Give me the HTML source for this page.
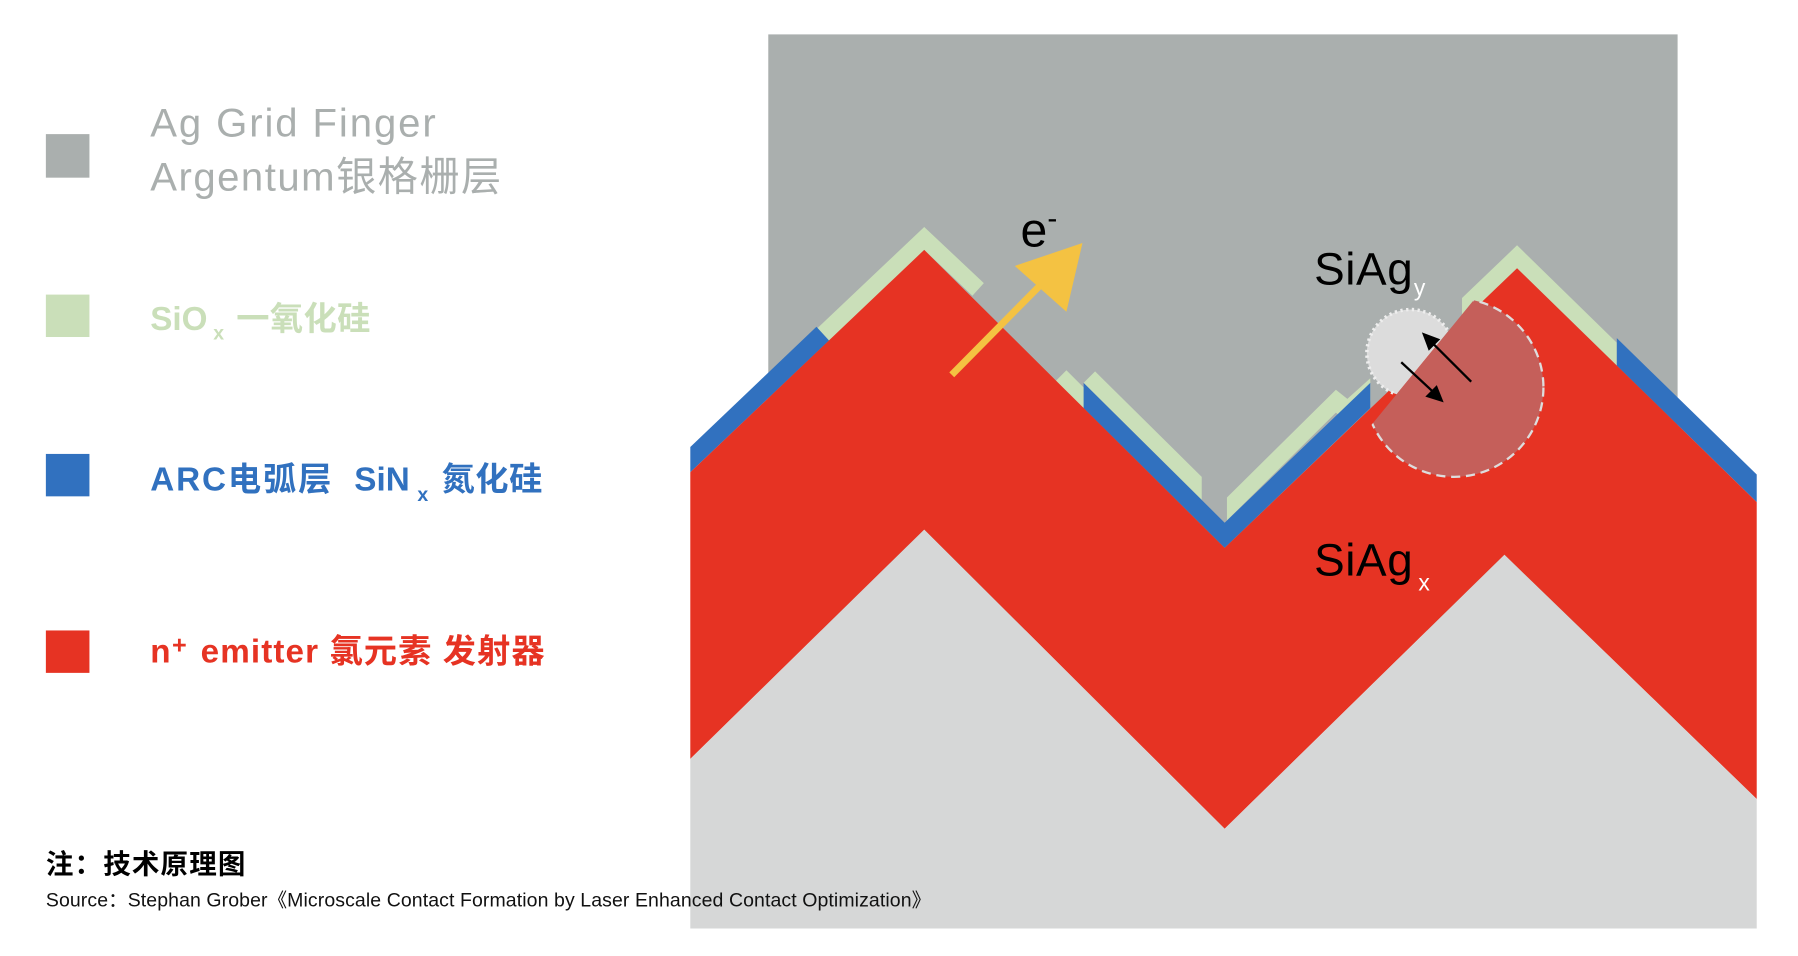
<!DOCTYPE html>
<html><head><meta charset="utf-8"><style>
html,body{margin:0;padding:0;background:#fff;}
svg{display:block;}
text{font-family:"Liberation Sans","Noto Sans CJK SC",sans-serif;}
</style></head><body>
<svg width="1798" height="956" viewBox="0 0 1568 834" preserveAspectRatio="none" xmlns="http://www.w3.org/2000/svg">
<defs>
<clipPath id="cr"><polygon points="1100,488 1380,146 1500,146 1500,600 1100,600"/></clipPath>
<clipPath id="cg"><polygon points="1100,488 1380,146 1100,146"/></clipPath>
</defs>
<rect x="0" y="0" width="1568" height="834" fill="#fff"/>
<rect x="670" y="30" width="793" height="520" fill="#aaafae"/>
<!-- green -->
<polygon points="720,300 709,290 806,198 858,247 848,258 806,218" fill="#cadfb9"/>
<polygon points="920,333 930,323 948,341 945,356" fill="#cadfb9"/>
<polygon points="945,334 1048,436 1048,416 955,324" fill="#cadfb9"/>
<polygon points="1070,454 1165,360 1175,368 1195,350 1195,330 1175,348 1165,340 1070,434" fill="#cadfb9"/>
<polygon points="1275,280 1323,234 1410,319 1410,299 1323,214 1275,260" fill="#cadfb9"/>
<!-- blue -->
<polygon points="602,412 602,390 712,285 723,297" fill="#3171bf"/>
<polygon points="945,356 1068,478 1195,356 1195,334 1068,456 945,334" fill="#3171bf"/>
<polygon points="1410,319 1532,438 1532,414 1410,295" fill="#3171bf"/>
<!-- red -->
<polygon points="602,412 806,218 1068,478 1323,234 1532,438 1532,697 1312,484 1068,723 806,462 602,662" fill="#e63323"/>
<!-- substrate -->
<polygon points="602,662 806,462 1068,723 1312,484 1532,697 1532,810 602,810" fill="#d6d7d7"/>
<!-- circles -->
<g clip-path="url(#cg)"><circle cx="1230" cy="308" r="38" fill="#dcdcdc" stroke="#eee" stroke-width="3" stroke-dasharray="2 3"/></g>
<g clip-path="url(#cr)"><circle cx="1268" cy="338" r="78" fill="#c55f5a" stroke="#ddd" stroke-width="2" stroke-dasharray="8 5"/></g>
<!-- black arrows -->
<line x1="1283" y1="333" x2="1250" y2="300" stroke="#000" stroke-width="2"/>
<polygon points="1240,290 1256,296 1246,306" fill="#000"/>
<line x1="1222" y1="316" x2="1250" y2="342" stroke="#000" stroke-width="2"/>
<polygon points="1259,351 1243,346 1253,336" fill="#000"/>
<!-- yellow arrow -->
<line x1="830" y1="327" x2="908" y2="248" stroke="#f4c242" stroke-width="6"/>
<polygon points="944,212 885,232 930,272" fill="#f4c242"/>
<!-- labels -->
<text x="890" y="215" font-size="42" fill="#000">e<tspan font-size="26" dy="-16">-</tspan></text>
<text x="1146" y="248" font-size="40" fill="#000" textLength="86">SiAg</text>
<text x="1233" y="258" font-size="20" fill="#fff">y</text>
<text x="1146" y="502" font-size="40" fill="#000" textLength="86">SiAg</text>
<text x="1237" y="515" font-size="20" fill="#fff">x</text>
<!-- legend -->
<rect x="40" y="117" width="38" height="38" fill="#aaafae"/>
<rect x="40" y="257" width="38" height="37" fill="#cadfb9"/>
<rect x="40" y="396" width="38" height="37" fill="#3171bf"/>
<rect x="40" y="550" width="38" height="37" fill="#e63323"/>
<text x="131" y="119" font-size="35" fill="#aaafae" textLength="249">Ag Grid Finger</text>
<text x="131" y="166" font-size="35" fill="#aaafae" textLength="306">Argentum银格栅层</text>
<text x="131" y="288" font-size="29" fill="#cadfb9" font-weight="bold">SiO</text>
<text x="186" y="296" font-size="17" fill="#cadfb9" font-weight="bold">x</text>
<text x="206" y="288" font-size="29" fill="#cadfb9" font-weight="bold" textLength="117">一氧化硅</text>
<text x="131" y="428" font-size="29" fill="#3171bf" font-weight="bold" textLength="158">ARC电弧层</text>
<text x="309" y="428" font-size="29" fill="#3171bf" font-weight="bold">SiN</text>
<text x="364" y="437" font-size="17" fill="#3171bf" font-weight="bold">x</text>
<text x="385" y="428" font-size="29" fill="#3171bf" font-weight="bold" textLength="88">氮化硅</text>
<text x="131" y="578" font-size="29" fill="#e63323" font-weight="bold">n</text>
<text x="150" y="570" font-size="22" fill="#e63323" font-weight="bold">+</text>
<text x="175" y="578" font-size="29" fill="#e63323" font-weight="bold" textLength="300">emitter 氯元素 发射器</text>
<text x="40" y="762" font-size="24" fill="#000" font-weight="bold" textLength="174">注：技术原理图</text>
<text x="40" y="791" font-size="17" fill="#111" textLength="772">Source：Stephan Grober《Microscale Contact Formation by Laser Enhanced Contact Optimization》</text>
</svg>
</body></html>
